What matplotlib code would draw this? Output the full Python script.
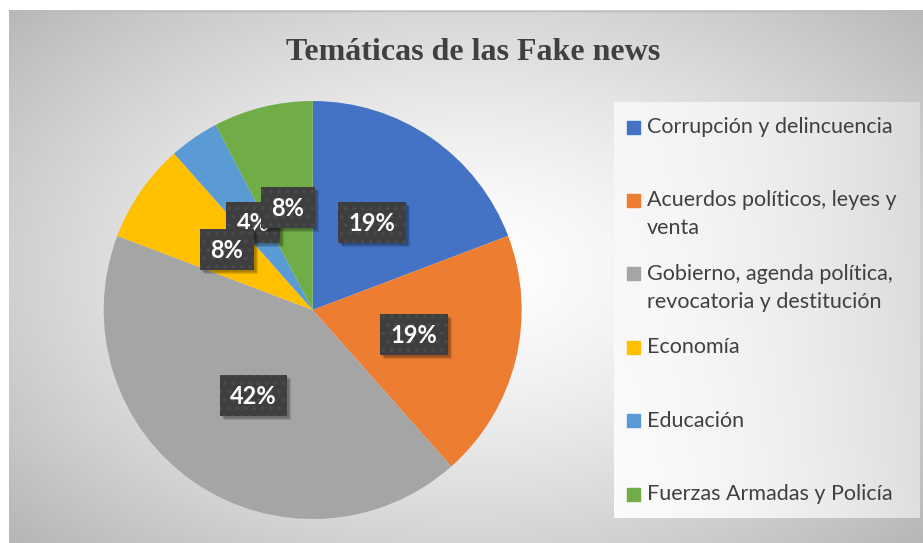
import numpy as np
import matplotlib.pyplot as plt
from matplotlib.patches import Rectangle
from matplotlib.transforms import IdentityTransform

# ---------------- data ----------------
categories = ["Corrupción y delincuencia",
              "Acuerdos políticos, leyes y\nventa",
              "Gobierno, agenda política,\nrevocatoria y destitución",
              "Economía",
              "Educación",
              "Fuerzas Armadas y Policía"]
counts = [5, 5, 11, 2, 1, 2]
colors = ["#4472C4", "#ED7D31", "#A5A5A5", "#FFC000", "#5B9BD5", "#70AD47"]
title = "Temáticas de las Fake news"

W, H = 923, 543
fig = plt.figure(figsize=(W / 100, H / 100), dpi=100)

# background axes in pixel coords
bg = fig.add_axes([0, 0, 1, 1])
bg.set_xlim(0, W)
bg.set_ylim(H, 0)
bg.axis('off')

# radial gradient of the chart area
x0, x1, y0, y1 = 9, 923, 10, 543
xx, yy = np.meshgrid(np.linspace(x0, x1, 460), np.linspace(y0, y1, 270))
d = np.sqrt(((xx - 470) / 520) ** 2 + ((yy - 270) / 330) ** 2)
d = np.clip(d, 0, 1.2)
shade = np.clip(1.0 - 0.22 * d ** 1.4, 0, 1)
bg.imshow(np.dstack([shade] * 3), extent=[x0, x1, y1, y0], aspect='auto',
          interpolation='bilinear', zorder=0)
bg.plot([x0, x1], [y0 + 0.5, y0 + 0.5], color="#bdbdbd", lw=1, zorder=1)

# legend panel
lx0, lx1, ly0, ly1 = 614, 920, 102, 518
lxx, lyy = np.meshgrid(np.linspace(0, 1, 200), np.linspace(0, 1, 200))
lshade = np.clip(0.985 - 0.11 * lxx ** 1.6 - 0.02 * (1 - lyy), 0, 1)
bg.imshow(np.dstack([lshade] * 3), extent=[lx0, lx1, ly1, ly0], aspect='auto',
          interpolation='bilinear', zorder=2)

# title
bg.text(473, 60, title, ha='center', va='baseline', fontsize=23,
        fontweight='bold', family='Liberation Serif', color='#404040', zorder=3)

# legend entries
for i, (lab, col) in enumerate(zip(categories, colors)):
    yc = 127 + i * 73.4
    bg.add_patch(Rectangle((627, yc - 6.5), 13, 13, color=col, zorder=3))
    for k, line in enumerate(lab.split("\n")):
        bg.text(647, yc + k * 28, line, ha='left', va='center', fontsize=15.5,
                family='Lato', color='#404040', zorder=3)

# pie
cx, cy, r = 312.7, 310, 209
ax = fig.add_axes([(cx - r) / W, (H - cy - r) / H, 2 * r / W, 2 * r / H])
wedges, texts, autotexts = ax.pie(counts, colors=colors, startangle=90,
                                  counterclock=False, autopct='%1.0f%%',
                                  pctdistance=0.5,
                                  wedgeprops=dict(linewidth=0))
ax.set_xlim(-1, 1)
ax.set_ylim(-1, 1)
ax.set_aspect('equal')
ax.axis('off')

plt.rcParams['hatch.linewidth'] = 1.5
label_z = [6, 6, 6, 6, 4, 7]   # small "4%" box sits under its neighbours
for t, z in zip(autotexts, label_z):
    t.set_color('white')
    t.set_fontsize(17)
    t.set_fontweight('bold')
    t.set_family('Lato')
    t.set_zorder(z + 0.2)

# dark dotted label boxes with a soft shadow (pixel coords)
fig.canvas.draw()
for t, z in zip(autotexts, label_z):
    tb = t.get_window_extent()
    px, py = ax.transData.transform(t.get_position())
    bw, bh = tb.width + 21, 41
    bx, by = px - bw / 2, py - bh / 2 + 1
    for k in range(3):
        off = 2 + k
        ax.add_patch(Rectangle((bx + off, by - off), bw, bh,
                               transform=IdentityTransform(), facecolor='black',
                               alpha=0.12, linewidth=0, zorder=z - 0.5))
    ax.add_patch(Rectangle((bx, by), bw, bh, transform=IdentityTransform(),
                           facecolor='#3e3e3e', edgecolor='#4a4a4a', hatch='..',
                           linewidth=0, zorder=z))

fig.savefig("out.png", dpi=100)
